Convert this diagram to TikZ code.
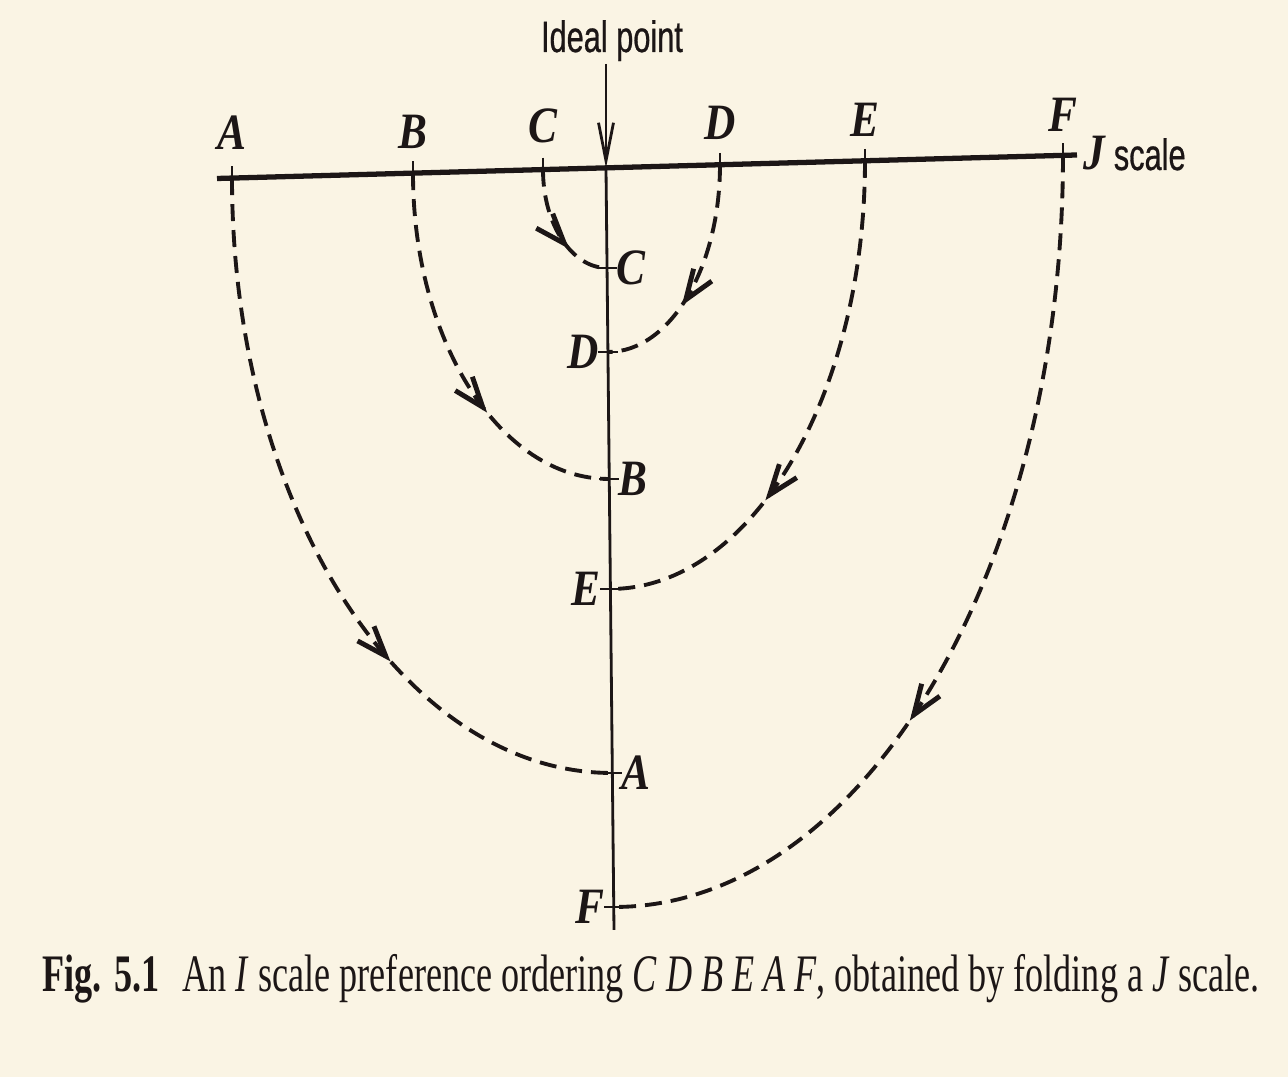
\documentclass[tikz,border=0pt]{standalone}
\usepackage{fontspec}
\setmainfont{Liberation Serif}
\newfontfamily\labsans[FakeStretch=0.7,FakeBold=0.6]{Liberation Sans}
\newfontfamily\labserif[FakeStretch=0.85]{Liberation Serif}
\usetikzlibrary{arrows.meta,calc,decorations.markings}
\definecolor{paper}{RGB}{250,244,228}
\definecolor{ink}{RGB}{28,22,22}
\tikzset{
  fold/.style={ink, line width=1.1pt, dash pattern=on 1.7mm off 0.9mm,
    postaction={decorate},
    decoration={markings, mark=at position #1 with {\arrow{Straight Barb[length=3mm,width=2.2mm,line width=1.4pt]}}}},
  lett/.style={font=\labserif\fontsize{14.5}{14}\selectfont\bfseries\itshape, inner sep=0pt, text=ink},
  tick/.style={ink, line width=0.8pt},
}
\begin{document}
\begin{tikzpicture}[x=0.1mm, y=-0.1mm]
\fill[paper] (0,0) rectangle (1288,1077);
\coordinate (jl) at (217,178.5);
\coordinate (jr) at (1077,155);
\coordinate (ideal) at (606,168);
\coordinate (bot) at (614,930);
% the J scale and the fold
\draw[ink, line width=1.5pt] (jl) -- (jr);
\draw[ink, line width=0.8pt] (ideal) -- (bot);
\node[font=\labsans\fontsize{12.5}{14}\selectfont, text=ink, anchor=base, inner sep=0pt] (idealtxt) at (612,52) {Ideal point};
\draw[ink, line width=0.8pt, -{Straight Barb[length=3.8mm,width=1.5mm]}] ([yshift=-0.2mm]idealtxt.south -| ideal) -- (ideal);
\node[anchor=base west, inner sep=0pt, text=ink] (jscale) at (1083,170) {\labserif\fontsize{14.5}{14}\selectfont\bfseries\itshape J\,\labsans\mdseries\upshape\fontsize{12.5}{14}\selectfont scale};
\foreach \n/\x/\y/\ly in {A/232/178.1/150, B/413/173.1/149, C/543/169.6/143, D/720/164.8/140, E/865/160.8/137, F/1063/155.4/132} {
  \coordinate (j\n) at (\x,\y);
  \draw[tick] (\x,\y-12) -- (\x,\y+12);
  \node[lett, anchor=base] (t\n) at (\x,\ly) {\n};
}
\foreach \n/\x/\y/\side in {C/607/268/right, D/608/352/left, B/609/479/right, E/610/589/left, A/612/773/right, F/614/907/left} {
  \coordinate (i\n) at (\x,\y);
  \draw[tick] (\x-10,\y) -- (\x+10,\y);
  \node[lett, \side=0.9mm] (s\n) at (i\n) {\n};
}
% folding arcs
\foreach \n/\p in {A/0.67,B/0.64,C/0.66,D/0.62,E/0.66,F/0.62}
  \draw[fold=\p] (j\n) .. controls ($(j\n)!0.552!(j\n|-i\n)$) and ($(i\n)!0.552!(j\n|-i\n)$) .. (i\n);
\node[anchor=base west, inner sep=0pt, text=ink, font=\fontsize{15}{18}\selectfont] (caption) at (42,992)
  {\scalebox{0.686}[1]{\textbf{Fig. 5.1}\hspace{0.65em}An \textit{I} scale preference ordering \textit{C D B E A F}, obtained by folding a \textit{J} scale.}};
\end{tikzpicture}
\end{document}
